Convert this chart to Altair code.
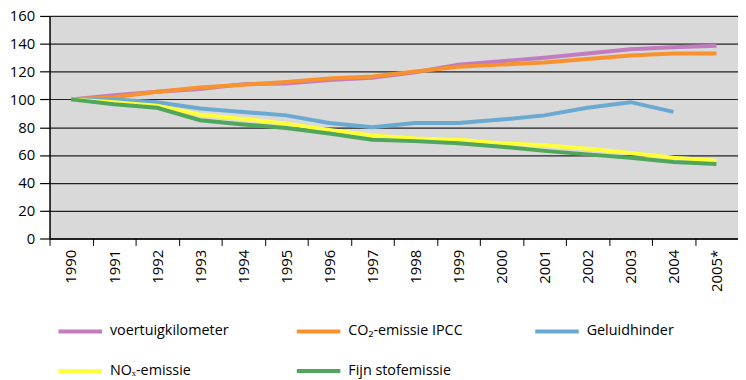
import altair as alt
import pandas as pd

years = ["1990", "1991", "1992", "1993", "1994", "1995", "1996", "1997",
         "1998", "1999", "2000", "2001", "2002", "2003", "2004", "2005*"]

series_names = ["voertuigkilometer", "CO₂-emissie IPCC", "Geluidhinder",
                "NOₓ-emissie", "Fijn stofemissie"]
series_colors = ["#C27CBF", "#F7922E", "#6AA9D0", "#FFFF3A", "#4FA65C"]

voertuigkilometer = [100, 103, 105.5, 107.5, 111, 111.5, 114, 115.5,
                     119.5, 125, 127.5, 130, 133, 136, 137.5, 138.5]
co2_emissie = [100, 101.5, 105.5, 108.5, 110.5, 112.5, 115, 116.5,
               120, 123.5, 125, 126.5, 129, 131.5, 133, 133]
geluidhinder = [100, 100, 98, 93.5, 91, 88.5, 83, 80,
                83, 83, 85.5, 88.5, 94, 98, 91, None]
nox_emissie = [100, 98, 95.5, 89, 86, 82.5, 78, 74,
               72, 71, 68.5, 67, 64.5, 61.5, 58, 56]
fijn_stof = [100, 96.5, 94, 85, 82, 79.5, 75.5, 71,
             70, 68.5, 66, 63, 60.5, 58, 55, 53.5]

y_ticks = [0, 20, 40, 60, 80, 100, 120, 140, 160]

rows = []
for name, vals in zip(series_names, [voertuigkilometer, co2_emissie, geluidhinder,
                                     nox_emissie, fijn_stof]):
    for yr, v in zip(years, vals):
        if v is not None:
            rows.append({"jaar": yr, "waarde": v, "reeks": name})
df = pd.DataFrame(rows)

FONT = "Open Sans"

chart = alt.Chart(df).mark_line(strokeWidth=4, strokeCap="butt").encode(
    x=alt.X("jaar:N", sort=years,
            scale=alt.Scale(paddingInner=0, paddingOuter=0),
            axis=alt.Axis(title=None, labelAngle=-90, labelFontSize=15, labelFont=FONT,
                          labelColor="#000", labelPadding=4, tickBand="extent",
                          tickSize=7, tickColor="#000", tickWidth=1,
                          domainColor="#000", domainWidth=1.5, grid=False)),
    y=alt.Y("waarde:Q",
            scale=alt.Scale(domain=[0, 160], nice=False, zero=True),
            axis=alt.Axis(title=None, values=y_ticks, labelFontSize=15, labelFont=FONT,
                          labelColor="#000", labelPadding=5, tickSize=10,
                          tickColor="#000", tickWidth=1.2, domainColor="#000",
                          domainWidth=1.5, grid=True, gridColor="#222",
                          gridWidth=1.2)),
    color=alt.Color("reeks:N", sort=series_names,
                    scale=alt.Scale(domain=series_names, range=series_colors),
                    legend=alt.Legend(title=None, orient="none", legendX=18, legendY=306,
                                      direction="horizontal",
                                      columns=3, gridAlign="all", columnPadding=60,
                                      rowPadding=19, symbolType="M-2,0H2",
                                      symbolSize=484, symbolStrokeWidth=4,
                                      labelFontSize=14.5, labelFont=FONT,
                                      labelColor="#000", labelOffset=17,
                                      labelLimit=300, padding=0)),
    order=alt.Order("jaar:N")
).properties(
    width=696, height=225,
    autosize=alt.AutoSizeParams(type="none"),
    padding={"left": 42, "top": 6, "right": 0, "bottom": 140},
    background="#ffffff"
).configure_view(
    fill="#D9D9D9", strokeWidth=0
)

chart.save("out.html", embed_options={"renderer": "svg", "actions": False})
